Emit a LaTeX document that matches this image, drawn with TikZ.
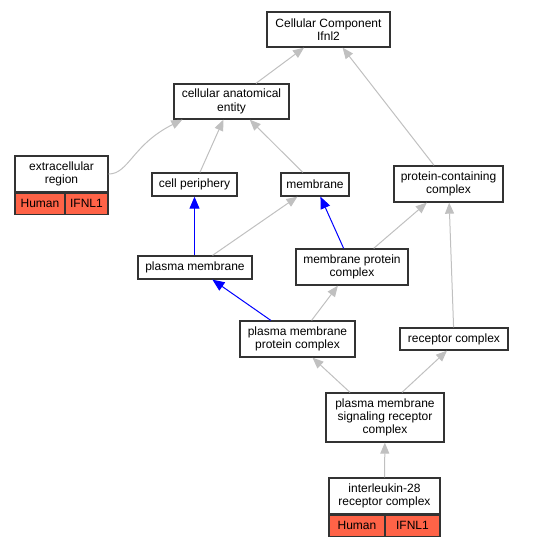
\documentclass[tikz,border=0pt]{standalone}
\usepackage{fontspec}
\setmainfont{Liberation Sans}
\usetikzlibrary{arrows.meta}

\definecolor{edgegray}{HTML}{C0C0C0}
\definecolor{taxred}{HTML}{FF6347}
\definecolor{boxline}{HTML}{333333}

\begin{document}
\begin{tikzpicture}[x=1pt,y=-1pt,
  term/.style={draw=boxline,line width=1.3pt,fill=white,align=center,inner sep=1pt,
    font=\fontsize{12}{13.3}\selectfont},
  tag/.style={draw=boxline,line width=1.3pt,fill=taxred,inner sep=1pt,minimum height=21pt,
    font=\fontsize{12}{13.3}\selectfont},
  isa/.style={draw=edgegray,line width=1pt,-{Triangle[length=11pt,width=9pt]}},
  partof/.style={draw=blue,line width=1pt,-{Triangle[length=12pt,width=10pt]}}]

\useasboundingbox(0,0)rectangle(536,547);

% terms
\node[term,minimum width=123pt,minimum height=35pt] (root) at (328.5,29.5) {Cellular Component\\Ifnl2};
\node[term,minimum width=115pt,minimum height=35pt] (cae) at (231.5,101.5) {cellular anatomical\\entity};
\node[term,minimum width=93pt,minimum height=36pt] (er) at (61.5,174) {extracellular\\region};
\node[tag,anchor=north west,minimum width=50pt] (erorg) at (er.south west) {Human};
\node[tag,anchor=north east,minimum width=43pt] (ergene) at (er.south east) {IFNL1};
\node[term,minimum width=85pt,minimum height=23pt] (cp) at (194.5,184.5) {cell periphery};
\node[term,minimum width=68pt,minimum height=23pt] (mem) at (315,184.5) {membrane};
\node[term,minimum width=109pt,minimum height=36pt] (pcc) at (448.5,184) {protein-containing\\complex};
\node[term,minimum width=114pt,minimum height=23pt] (pm) at (195,267.5) {plasma membrane};
\node[term,minimum width=112pt,minimum height=36pt] (mpc) at (352,267) {membrane protein\\complex};
\node[term,minimum width=115pt,minimum height=36pt] (pmpc) at (297.5,339) {plasma membrane\\protein complex};
\node[term,minimum width=108pt,minimum height=22pt] (rc) at (454,339) {receptor complex};
\node[term,minimum width=118pt,minimum height=49pt] (pmsrc) at (385,417.5) {plasma membrane\\signaling receptor\\complex};
\node[term,minimum width=111pt,minimum height=36pt] (il28) at (384.5,496) {interleukin-28\\receptor complex};
\node[tag,anchor=north west,minimum width=56pt] (il28org) at (il28.south west) {Human};
\node[tag,anchor=north east,minimum width=55pt] (il28gene) at (il28.south east) {IFNL1};

% is_a
\draw[isa] (cae) -- (root);
\draw[isa] (pcc) -- (root);
\draw[isa] (er.east) .. controls +(20,0) and +(-50,25) .. ([xshift=9pt]cae.south west);
\draw[isa] (cp) -- (cae);
\draw[isa] (mem) -- (cae);
\draw[isa] (pm) -- (mem);
\draw[isa] (mpc) -- (pcc);
\draw[isa] (rc) -- (pcc);
\draw[isa] (pmpc) -- (mpc);
\draw[isa] ([xshift=-35pt]pmsrc.north) -- ([xshift=15pt]pmpc.south);
\draw[isa] ([xshift=17pt]pmsrc.north) -- ([xshift=-7pt]rc.south);
\draw[isa] (il28) -- (pmsrc);

% part_of
\draw[partof] (pm.north -| cp) -- (cp);
\draw[partof] (mpc) -- (mem);
\draw[partof] (pmpc) -- (pm);

\end{tikzpicture}
\end{document}
